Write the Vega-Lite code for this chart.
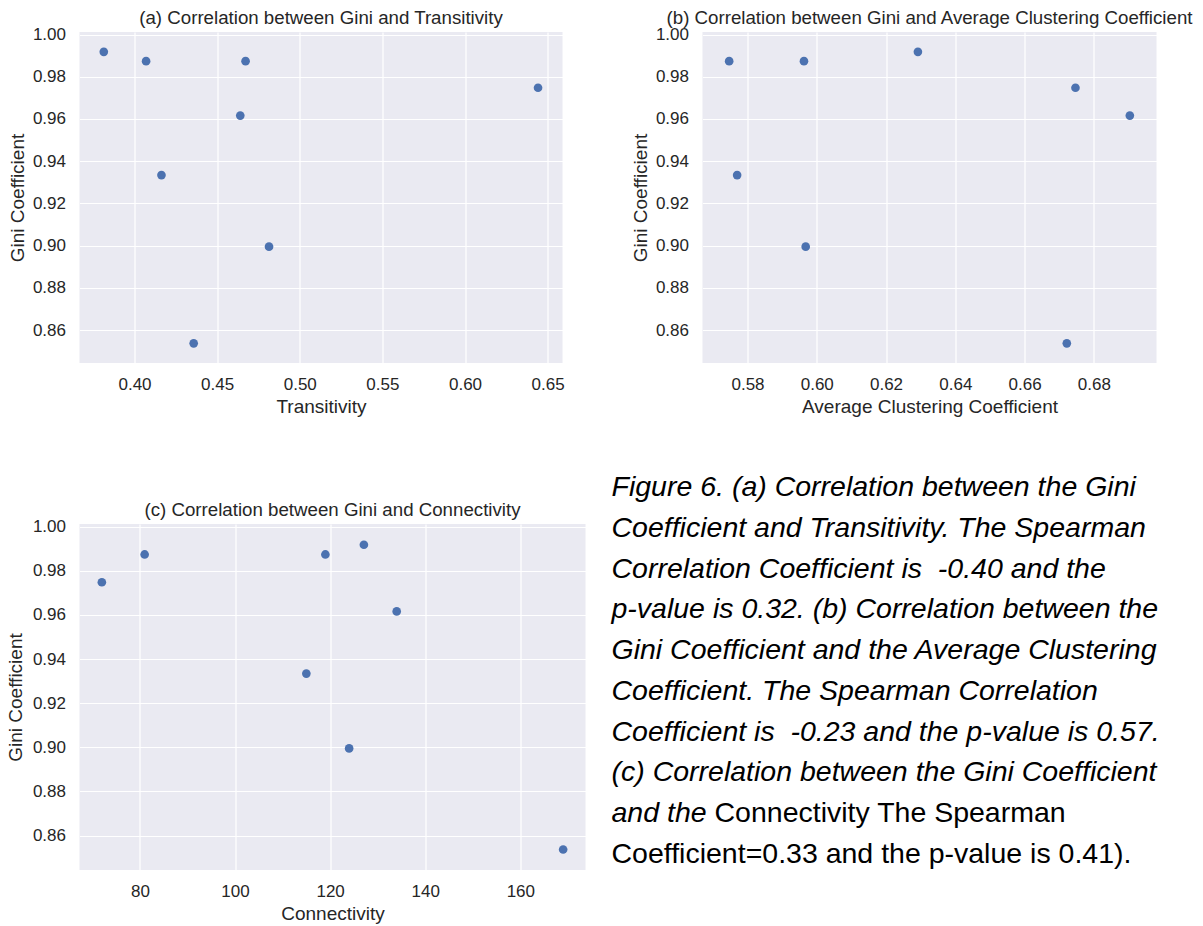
{
  "$schema": "https://vega.github.io/schema/vega-lite/v6.json",
  "background": "white",
  "padding": {"left": 6.5, "top": 8, "right": 5, "bottom": 5},
  "datasets": {
    "gini": [
      {"gini": 0.9918, "transitivity": 0.3814, "clustering": 0.6292, "connectivity": 127.1},
      {"gini": 0.9874, "transitivity": 0.407, "clustering": 0.5747, "connectivity": 81.0},
      {"gini": 0.9874, "transitivity": 0.4672, "clustering": 0.5963, "connectivity": 119.0},
      {"gini": 0.9748, "transitivity": 0.6442, "clustering": 0.6747, "connectivity": 72.0},
      {"gini": 0.9616, "transitivity": 0.464, "clustering": 0.6904, "connectivity": 134.0},
      {"gini": 0.9334, "transitivity": 0.4163, "clustering": 0.577, "connectivity": 115.0},
      {"gini": 0.8995, "transitivity": 0.4814, "clustering": 0.5968, "connectivity": 124.0},
      {"gini": 0.8537, "transitivity": 0.4358, "clustering": 0.6722, "connectivity": 169.0}
    ],
    "captionItalic": [
      {"line": 1, "text": "Figure 6. (a) Correlation between the Gini"},
      {"line": 2, "text": "Coefficient and Transitivity. The Spearman"},
      {"line": 3, "text": "Correlation Coefficient is \u00a0-0.40 and the"},
      {"line": 4, "text": "p-value is 0.32. (b) Correlation between the"},
      {"line": 5, "text": "Gini Coefficient and the Average Clustering"},
      {"line": 6, "text": "Coefficient. The Spearman Correlation"},
      {"line": 7, "text": "Coefficient is \u00a0-0.23 and the p-value is 0.57."},
      {"line": 8, "text": "(c) Correlation between the Gini Coefficient"},
      {"line": 9, "text": "and the"}
    ],
    "captionRomanTail": [
      {"line": 9, "text": "Connectivity The Spearman"}
    ],
    "captionRoman": [
      {"line": 10, "text": "Coefficient=0.33 and the p-value is 0.41)."}
    ]
  },
  "vconcat": [
    {
      "hconcat": [
        {
          "width": 483, "height": 331,
          "title": {"text": "(a) Correlation between Gini and Transitivity"},
          "data": {"name": "gini"},
          "mark": {"type": "circle", "size": 75, "opacity": 1, "color": "#4C72B0"},
          "encoding": {
            "x": {"field": "transitivity", "type": "quantitative",
                  "scale": {"domain": [0.3667, 0.659], "nice": false, "zero": false},
                  "axis": {"title": "Transitivity", "values": [0.4, 0.45, 0.5, 0.55, 0.6, 0.65], "format": ".2f"}},
            "y": {"field": "gini", "type": "quantitative",
                  "scale": {"domain": [0.8444, 1.0012], "nice": false, "zero": false},
                  "axis": {"title": "Gini Coefficient", "values": [0.86, 0.88, 0.9, 0.92, 0.94, 0.96, 0.98, 1.0], "format": ".2f"}}
          }
        },
        {
          "width": 454, "height": 331,
          "title": {"text": "(b) Correlation between Gini and Average Clustering Coefficient"},
          "data": {"name": "gini"},
          "mark": {"type": "circle", "size": 75, "opacity": 1, "color": "#4C72B0"},
          "encoding": {
            "x": {"field": "clustering", "type": "quantitative",
                  "scale": {"domain": [0.567, 0.6981], "nice": false, "zero": false},
                  "axis": {"title": "Average Clustering Coefficient", "values": [0.58, 0.6, 0.62, 0.64, 0.66, 0.68], "format": ".2f"}},
            "y": {"field": "gini", "type": "quantitative",
                  "scale": {"domain": [0.8444, 1.0012], "nice": false, "zero": false},
                  "axis": {"title": "Gini Coefficient", "values": [0.86, 0.88, 0.9, 0.92, 0.94, 0.96, 0.98, 1.0], "format": ".2f"}}
          }
        }
      ],
      "spacing": 66
    },
    {
      "hconcat": [
        {
          "width": 506, "height": 346,
          "title": {"text": "(c) Correlation between Gini and Connectivity"},
          "data": {"name": "gini"},
          "mark": {"type": "circle", "size": 75, "opacity": 1, "color": "#4C72B0"},
          "encoding": {
            "x": {"field": "connectivity", "type": "quantitative",
                  "scale": {"domain": [67.3, 173.7], "nice": false, "zero": false},
                  "axis": {"title": "Connectivity", "values": [80, 100, 120, 140, 160], "format": "d"}},
            "y": {"field": "gini", "type": "quantitative",
                  "scale": {"domain": [0.8444, 1.0012], "nice": false, "zero": false},
                  "axis": {"title": "Gini Coefficient", "values": [0.86, 0.88, 0.9, 0.92, 0.94, 0.96, 0.98, 1.0], "format": ".2f", "labelPadding": 14, "titlePadding": 6.5}}
          }
        },
        {
          "width": 590, "height": 330,
          "view": {"fill": null, "stroke": null},
          "encoding": {
            "x": {"datum": 0, "type": "quantitative", "scale": {"domain": [0, 1]}, "axis": null},
            "y": {"field": "line", "type": "quantitative", "scale": {"domain": [1.907, 10], "reverse": true, "nice": false, "zero": false}, "axis": null},
            "text": {"field": "text", "type": "nominal"}
          },
          "layer": [
            {"data": {"name": "captionItalic"},
             "mark": {"type": "text", "align": "left", "baseline": "middle", "font": "Liberation Sans", "fontStyle": "italic", "fontSize": 28.5, "color": "black"}},
            {"data": {"name": "captionRomanTail"},
             "mark": {"type": "text", "align": "left", "baseline": "middle", "dx": 103, "font": "Liberation Sans", "fontSize": 28.5, "color": "black"}},
            {"data": {"name": "captionRoman"},
             "mark": {"type": "text", "align": "left", "baseline": "middle", "font": "Liberation Sans", "fontSize": 28.5, "color": "black"}}
          ]
        }
      ],
      "spacing": 26
    }
  ],
  "spacing": 57,
  "config": {
    "view": {"fill": "#EAEAF2", "stroke": null},
    "axis": {
      "domain": false, "ticks": false, "tickSize": 0,
      "grid": true, "gridColor": "white", "gridWidth": 1.2,
      "labelFont": "Liberation Sans", "labelFontSize": 17, "labelColor": "#262626",
      "titleFont": "Liberation Sans", "titleFontSize": 19, "titleFontWeight": "normal", "titleColor": "#262626"
    },
    "axisY": {"labelPadding": 14, "titlePadding": 5},
    "axisX": {"labelPadding": 13, "titlePadding": 5},
    "title": {"font": "Liberation Sans", "fontSize": 18.7, "fontWeight": "normal", "color": "#262626", "offset": -2}
  }
}
